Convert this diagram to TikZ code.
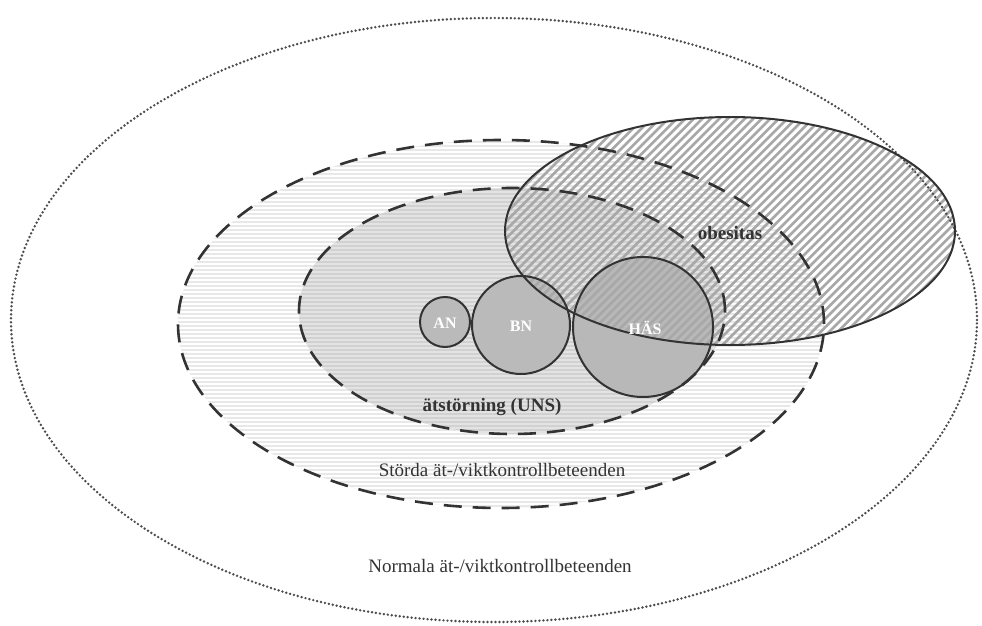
\documentclass[tikz,border=0pt]{standalone}
\usepackage{fontspec}
\setmainfont{Liberation Serif}
\begin{document}
\begin{tikzpicture}[x=1pt,y=-1pt]
\tikzset{
 lab/.style={font=\fontsize{19}{22}\selectfont, text=black!80, inner sep=0pt},
 blab/.style={font=\fontsize{19}{22}\selectfont\bfseries, text=black!80, inner sep=0pt},
 wlab/.style={font=\fontsize{16}{19}\selectfont\bfseries, text=white, inner sep=0pt},
 dashline/.style={line width=2.6pt, draw=black!80, dash pattern=on 18pt off 11pt},
 dotline/.style={line width=2.7pt, draw=black!70, line cap=round, dash pattern=on 0pt off 4pt},
 solidline/.style={line width=2pt, draw=black!80},
 hatchline/.style={line width=2.8pt, draw=black!34},
}
\useasboundingbox (0,0) rectangle (982,626);
% outer dashed region with horizontal stripes
\begin{scope}
 \clip (501,324) ellipse [x radius=323pt, y radius=184pt];
 \fill[black!9] (170,130) rectangle (830,515);
 \foreach \y in {140,144,...,510} \draw[white, line width=1.3pt] (170,\y) -- (830,\y);
\end{scope}
% inner dashed region
\begin{scope}
 \clip (512,311) ellipse [x radius=213pt, y radius=123pt];
 \fill[black!18] (290,180) rectangle (730,440);
 \foreach \y in {188,192,...,436} \draw[black!11, line width=1.2pt] (290,\y) -- (730,\y);
\end{scope}
% circle fills
\fill[black!27] (445,322) circle [radius=25pt];
\fill[black!27] (521,325) circle [radius=49pt];
\fill[black!28] (643,327) circle [radius=70pt];
% obesitas hatching
\begin{scope}
 \clip (730,231) ellipse [x radius=225pt, y radius=114pt];
 \foreach \x in {240,248.5,...,970} \draw[hatchline] (\x,360) -- ++(260,-260);
\end{scope}
% outlines
\draw[dotline] (494,320) ellipse [x radius=483pt, y radius=302pt];
\draw[dashline] (501,324) ellipse [x radius=323pt, y radius=184pt];
\draw[dashline] (512,311) ellipse [x radius=213pt, y radius=123pt];
\draw[solidline] (445,322) circle [radius=25pt];
\draw[solidline] (521,325) circle [radius=49pt];
\draw[solidline] (643,327) circle [radius=70pt];
\draw[solidline] (730,231) ellipse [x radius=225pt, y radius=114pt];
% labels
\node[wlab] (an) at (445,323) {AN};
\node[wlab] (bn) at (521,326) {BN};
\node[wlab] (has) at (645,328) {HÄS};
\node[blab] (obes) at (730,233) {obesitas};
\node[blab] (ats) at (492,407) {ätstörning (UNS)};
\node[lab] (storda) at (502,470) {Störda ät-/viktkontrollbeteenden};
\node[lab] (normala) at (500,566) {Normala ät-/viktkontrollbeteenden};
\end{tikzpicture}
\end{document}
